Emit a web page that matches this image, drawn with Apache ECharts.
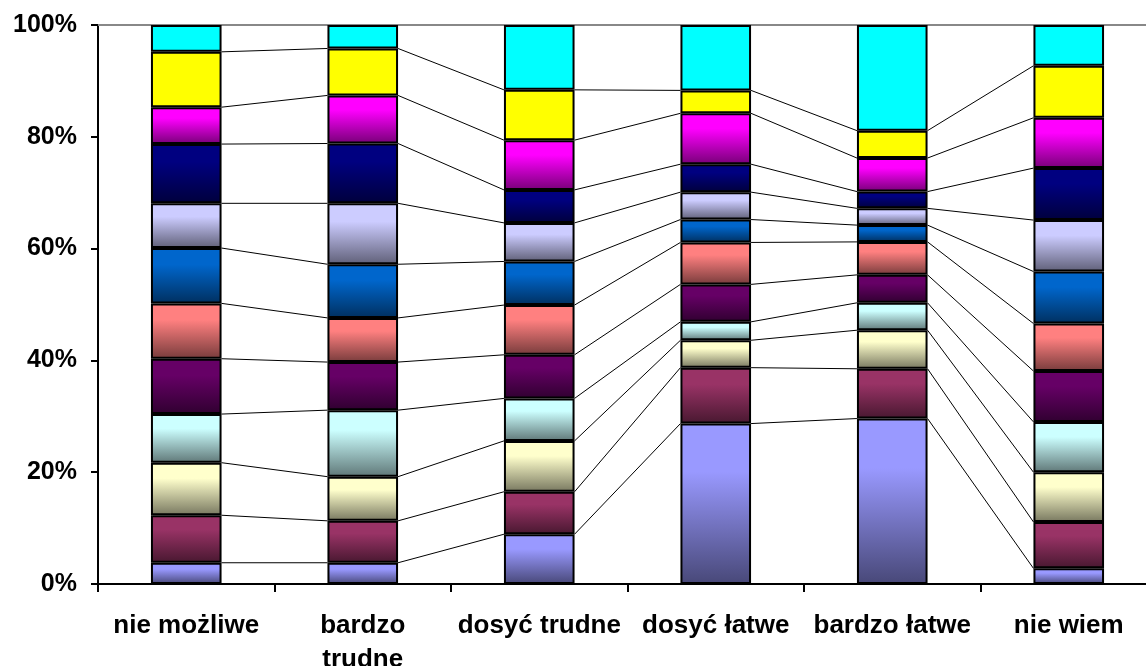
<!DOCTYPE html>
<html>
<head>
<meta charset="utf-8">
<script src="https://cdn.jsdelivr.net/npm/echarts@6/dist/echarts.min.js"></script>
<style>
html,body{margin:0;padding:0;background:#fff;}
#chart{width:1146px;height:666px;}
</style>
</head>
<body>
<div id="chart"></div>
<script>
const categories = ['nie możliwe', 'bardzo\ntrudne', 'dosyć trudne', 'dosyć łatwe', 'bardzo łatwe', 'nie wiem'];
const yTicks = [0, 20, 40, 60, 80, 100];

// segment values (percent of each bar), bottom to top
const s1  = [3.8, 3.8, 8.9, 28.7, 29.6, 2.8];
const s2  = [8.5, 7.5, 7.6, 10.0, 8.9, 8.3];
const s3  = [9.4, 7.9, 9.1, 4.9, 6.9, 8.9];
const s4  = [8.7, 11.9, 7.6, 3.3, 4.9, 9.0];
const s5  = [9.9, 8.6, 7.8, 6.7, 5.0, 9.1];
const s6  = [9.9, 7.9, 8.9, 7.5, 5.9, 8.5];
const s7  = [9.9, 9.6, 7.8, 4.1, 3.0, 9.3];
const s8  = [8.0, 10.9, 6.9, 4.9, 3.0, 9.2];
const s9  = [10.6, 10.7, 5.9, 5.0, 3.0, 9.3];
const s10 = [6.6, 8.6, 8.9, 9.1, 6.0, 9.0];
const s11 = [9.9, 8.4, 9.0, 4.1, 4.9, 9.3];
const s12 = [4.8, 4.2, 11.6, 11.7, 18.9, 7.3];

const seriesValues = [s1, s2, s3, s4, s5, s6, s7, s8, s9, s10, s11, s12];
const colors = ['#9999FF', '#993366', '#FFFFCC', '#CCFFFF', '#660066', '#FF8080',
                '#0066CC', '#CCCCFF', '#000080', '#FF00FF', '#FFFF00', '#00FFFF'];
const solid = [false, false, false, false, false, false, false, false, false, false, true, true];

function darken(hex, f) {
  const n = parseInt(hex.slice(1), 16);
  const r = Math.round(((n >> 16) & 255) * f), g = Math.round(((n >> 8) & 255) * f), b = Math.round((n & 255) * f);
  return 'rgb(' + r + ',' + g + ',' + b + ')';
}

// normalise to 100% per category
const totals = categories.map((c, i) => seriesValues.reduce((s, arr) => s + arr[i], 0));
const pct = seriesValues.map(arr => arr.map((v, i) => v / totals[i] * 100));
// cumulative tops
const cum = [];
pct.forEach((arr, k) => {
  cum.push(arr.map((v, i) => (k > 0 ? cum[k - 1][i] : 0) + v));
});

const FONT = "'Liberation Sans', Arial, sans-serif";

const series = pct.map((arr, k) => ({
  type: 'bar',
  stack: 'total',
  barWidth: '40%',
  xAxisIndex: 0,
  data: arr,
  itemStyle: {
    color: solid[k] ? colors[k] : new echarts.graphic.LinearGradient(0, 0, 0, 1, [
      { offset: 0, color: colors[k] },
      { offset: 0.3, color: colors[k] },
      { offset: 1, color: darken(colors[k], 0.47) }
    ]),
    borderColor: '#000',
    borderWidth: 2
  },
  z: 3
}));

// series lines connecting segment tops between adjacent bars
for (let k = 0; k < 11; k++) {
  const d = [];
  for (let i = 0; i < categories.length - 1; i++) d.push([i, cum[k][i], cum[k][i + 1]]);
  series.push({
    type: 'custom',
    xAxisIndex: 0,
    data: d,
    encode: { x: 0, y: [1, 2] },
    silent: true,
    z: 2,
    renderItem: function (params, api) {
      const a = api.coord([api.value(0), api.value(1)]);
      const b = api.coord([api.value(0) + 1, api.value(2)]);
      const half = api.size([1, 0])[0] * 0.2;
      return {
        type: 'line',
        shape: { x1: a[0] + half, y1: a[1], x2: b[0] - half, y2: b[1] },
        style: { stroke: '#000', lineWidth: 1 }
      };
    }
  });
}

const chart = echarts.init(document.getElementById('chart'), null, { renderer: 'canvas' });
chart.setOption({
  animation: false,
  backgroundColor: '#fff',
  grid: { left: 98, top: 25, bottom: 82, right: -11, containLabel: false, outerBoundsMode: 'none' },
  xAxis: [{
    type: 'category',
    data: categories,
    position: 'bottom',
    axisLine: { lineStyle: { color: '#000', width: 2 } },
    axisTick: { show: true, length: 8, lineStyle: { color: '#000', width: 2 } },
    axisLabel: {
      interval: 0,
      margin: 25,
      color: '#000',
      fontFamily: FONT,
      fontWeight: 'bold',
      fontSize: 26,
      lineHeight: 34
    },
    splitLine: { show: false }
  }, {
    type: 'category',
    data: categories,
    position: 'top',
    axisLine: { lineStyle: { color: '#888', width: 2 } },
    axisTick: { show: false },
    axisLabel: { show: false },
    splitLine: { show: false }
  }],
  yAxis: {
    type: 'value',
    min: yTicks[0],
    max: yTicks[yTicks.length - 1],
    interval: 20,
    axisLine: { show: true, lineStyle: { color: '#000', width: 2 } },
    axisTick: { show: true, length: 7, lineStyle: { color: '#000', width: 2 } },
    axisLabel: {
      formatter: '{value}%',
      margin: 21,
      color: '#000',
      fontFamily: FONT,
      fontWeight: 'bold',
      fontSize: 25
    },
    splitLine: { show: false }
  },
  series: series
});
</script>
</body>
</html>
